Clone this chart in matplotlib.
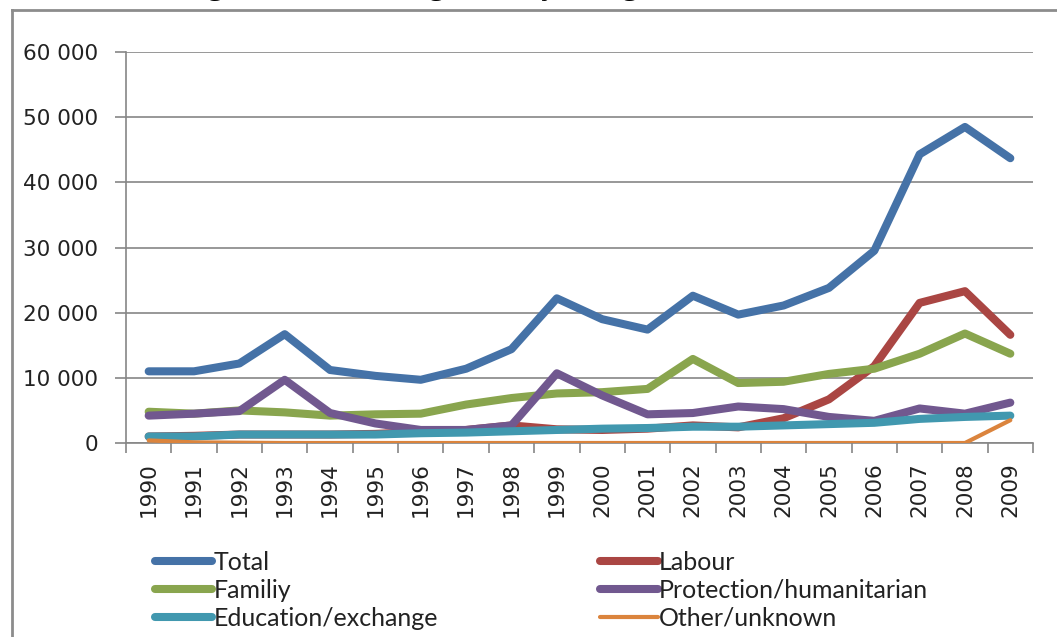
import matplotlib.pyplot as plt
from matplotlib.lines import Line2D
from matplotlib.ticker import FuncFormatter

years = [str(y) for y in range(1990, 2010)]

total = [11000, 11000, 12200, 16700, 11200, 10300, 9700, 11400, 14400, 22200,
         19000, 17400, 22600, 19700, 21100, 23800, 29500, 44300, 48500, 43700]
labour = [1000, 1100, 1300, 1300, 1300, 1400, 1700, 2000, 2700, 2100,
          2000, 2200, 2700, 2400, 3800, 6700, 11800, 21500, 23300, 16600]
family = [4800, 4500, 5000, 4700, 4200, 4400, 4500, 5900, 6900, 7600,
          7800, 8300, 12900, 9200, 9400, 10600, 11400, 13700, 16800, 13700]
protection = [4200, 4500, 4900, 9700, 4600, 3000, 2000, 2000, 2700, 10700,
              7300, 4400, 4600, 5600, 5200, 4000, 3400, 5300, 4500, 6200]
education = [1000, 1000, 1300, 1300, 1300, 1300, 1500, 1600, 1800, 2000,
             2200, 2300, 2500, 2500, 2700, 2900, 3100, 3700, 4000, 4200]
other = [400, 100, 50, 0, 0, 0, 0, 0, 0, 0,
         0, 0, 0, 0, 0, 0, 0, 0, 0, 3500]

series = [
    ("Total", total, "#4572A7", 5.8),
    ("Labour", labour, "#AA4643", 5.8),
    ("Familiy", family, "#89A54E", 5.8),
    ("Protection/humanitarian", protection, "#71588F", 5.8),
    ("Education/exchange", education, "#4198AF", 5.8),
    ("Other/unknown", other, "#DB843D", 3.0),
]

grid_c = "#868686"
fig = plt.figure(figsize=(10.57, 6.37), dpi=100)
ax = fig.add_axes([126 / 1057, 1 - 443 / 637, 907 / 1057, 391 / 637])

x = list(range(len(years)))
lines = {}
for i, (name, vals, col, lw) in enumerate(series):
    lines[name], = ax.plot(x, vals, color=col, lw=lw, solid_capstyle="round",
                           solid_joinstyle="round", label=name, zorder=3 + i)

ax.set_xlim(-0.5, len(years) - 0.5)
ax.set_ylim(0, 60000)
ax.set_yticks(range(0, 60001, 10000))
ax.yaxis.set_major_formatter(FuncFormatter(lambda v, p: f"{int(v):,}".replace(",", " ")))
ax.grid(axis="y", color=grid_c, lw=1.2, zorder=0)

ax.set_xticks([i - 0.5 for i in range(len(years) + 1)])
ax.set_xticklabels([])
ax.set_xticks(x, minor=True)
ax.set_xticklabels(years, minor=True, rotation=90)
ax.tick_params(axis="x", which="major", length=7, color=grid_c, width=1.2)
ax.tick_params(axis="x", which="minor", length=0, pad=14, labelsize=15.5, labelcolor="#222222")
ax.tick_params(axis="y", length=8, color=grid_c, width=1.2, labelsize=15.5,
               labelcolor="#222222", pad=12)

for s in ("top", "right"):
    ax.spines[s].set_visible(False)
for s in ("left", "bottom"):
    ax.spines[s].set_color(grid_c)
    ax.spines[s].set_linewidth(1.2)

# legend filled row by row: Total/Labour, Familiy/Protection, Education/Other
leg_order = ["Total", "Familiy", "Education/exchange",
             "Labour", "Protection/humanitarian", "Other/unknown"]
leg = fig.legend([lines[n] for n in leg_order], leg_order, ncol=2, loc="upper left",
                 bbox_to_anchor=(132 / 1057, 1 - 528 / 637),
                 frameon=False, handlelength=2.3, handletextpad=0.05,
                 columnspacing=6.5, labelspacing=0.2,
                 prop={"family": ["Lato", "DejaVu Sans"], "size": 18})
for t in leg.get_texts():
    t.set_color("#222222")

# chart area border, cut off at right and bottom
fig.add_artist(Line2D([12 / 1057, 12 / 1057], [0, 1 - 10 / 637], color="#8c8c8c", lw=2))
fig.add_artist(Line2D([12 / 1057, 1], [1 - 10 / 637, 1 - 10 / 637], color="#8c8c8c", lw=2))

# caption above the chart, only its lower edge shows
fig.text(15 / 1057, 1 + 6 / 637, "Chart 1. Immigration according to entry categories, 1990\u20132009",
         family=["Liberation Serif", "DejaVu Serif"], fontsize=24.5, va="baseline", ha="left")

fig.savefig("out.png", dpi=100)
